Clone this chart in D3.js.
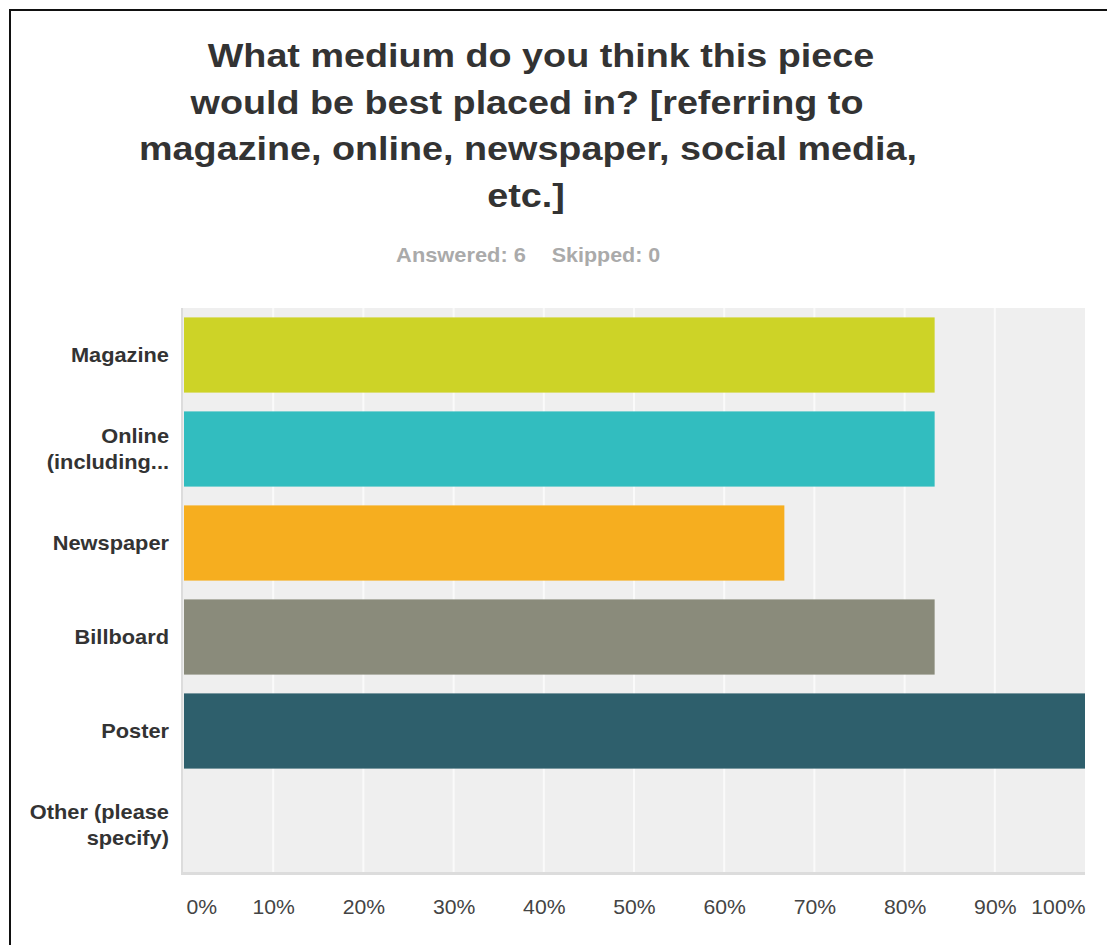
<!DOCTYPE html>
<html>
<head>
<meta charset="utf-8">
<script src="https://cdn.jsdelivr.net/npm/d3@7"></script>
<style>
  body { margin: 0; background: #fff; }
  svg { display: block; font-family: "Liberation Sans", Arial, sans-serif; }
</style>
</head>
<body>
<div class="visHolder"></div>
<script>
const w = 1107;
const h = 945;

// data
const categories = ['Magazine', 'Online (including...', 'Newspaper', 'Billboard', 'Poster', 'Other (please specify)'];
const labelLines = [['Magazine'], ['Online', '(including...'], ['Newspaper'], ['Billboard'], ['Poster'], ['Other (please', 'specify)']];
const percents = [83.33, 83.33, 66.67, 83.33, 100, 0];
const barColors = ['#cdd327', '#32bdbf', '#f6ae1f', '#8a8b7b', '#2e5f6c', '#cccccc'];
const tickValues = [0, 10, 20, 30, 40, 50, 60, 70, 80, 90, 100];
const titleLines = ['What medium do you think this piece', 'would be best placed in? [referring to', 'magazine, online, newspaper, social media,', 'etc.]'];

const plot = { left: 183, top: 308, right: 1085, bottom: 872 };

const svg = d3.select('.visHolder')
  .append('svg')
  .attr('width', w)
  .attr('height', h);

// the screenshot looks a little stretched sideways, so text gets a scaleX
function stretched(sel, x, y, sx) {
  return sel.attr('transform', 'translate(' + x + ',' + y + ') scale(' + sx + ',1)');
}

// frame (only left and top edges visible in the crop)
svg.append('path')
  .attr('d', 'M10,945 L10,10 L1107,10')
  .attr('fill', 'none')
  .attr('stroke', '#111')
  .attr('stroke-width', 2);

// title (first line sits a bit to the right in the original)
const titleX = [541, 527, 528, 526];
titleLines.forEach((line, i) => {
  stretched(svg.append('text'), titleX[i], 67 + i * 46.7, 1.11)
    .attr('text-anchor', 'middle')
    .style('font-size', '34px')
    .style('font-weight', 'bold')
    .style('fill', '#333')
    .text(line);
});

stretched(svg.append('text'), 461, 262, 1.12)
  .attr('text-anchor', 'middle')
  .style('font-size', '19.5px')
  .style('font-weight', 'bold')
  .style('fill', '#aaa')
  .text('Answered: 6');

stretched(svg.append('text'), 606, 262, 1.1)
  .attr('text-anchor', 'middle')
  .style('font-size', '19.5px')
  .style('font-weight', 'bold')
  .style('fill', '#aaa')
  .text('Skipped: 0');

const xScale = d3.scaleLinear()
  .domain([0, 100])
  .range([plot.left, plot.right]);

const yScale = d3.scaleBand()
  .domain(categories)
  .range([plot.top, plot.bottom])
  .paddingInner(0.2)
  .paddingOuter(0.1);

// plot background with shadow on left/bottom
svg.append('rect')
  .attr('x', plot.left - 2)
  .attr('y', plot.top)
  .attr('width', plot.right - plot.left + 2)
  .attr('height', plot.bottom - plot.top + 3)
  .style('fill', '#dcdcdc');

svg.append('rect')
  .attr('x', plot.left)
  .attr('y', plot.top)
  .attr('width', plot.right - plot.left)
  .attr('height', plot.bottom - plot.top)
  .style('fill', '#efefef');

// grid lines
svg.append('g')
  .selectAll('line')
  .data(tickValues.slice(1, -1))
  .enter()
  .append('line')
  .attr('x1', d => xScale(d))
  .attr('x2', d => xScale(d))
  .attr('y1', plot.top)
  .attr('y2', plot.bottom)
  .style('stroke', '#fafafa')
  .style('stroke-width', 2);

// bars
svg.append('g')
  .selectAll('rect')
  .data(categories)
  .enter()
  .append('rect')
  .attr('x', xScale(0) + 1)
  .attr('y', d => yScale(d))
  .attr('width', (d, i) => Math.max(0, xScale(percents[i]) - xScale(0) - 1))
  .attr('height', yScale.bandwidth())
  .style('fill', (d, i) => barColors[i]);

// y labels
const yLabels = svg.append('g');
categories.forEach((c, i) => {
  const lines = labelLines[i];
  const cy = yScale(c) + yScale.bandwidth() / 2;
  lines.forEach((line, j) => {
    stretched(yLabels.append('text'), 169, cy + (j - (lines.length - 1) / 2) * 26.5 + 7, 1.09)
      .attr('text-anchor', 'end')
      .style('font-size', '20px')
      .style('font-weight', 'bold')
      .style('fill', '#333')
      .text(line);
  });
});

// x axis labels
const xAxis = d3.axisBottom(xScale)
  .tickValues(tickValues)
  .tickSize(0)
  .tickPadding(0)
  .tickFormat(d => d + '%');

const gx = svg.append('g')
  .attr('transform', 'translate(0,' + 914 + ')')
  .call(xAxis);
gx.select('.domain').remove();
gx.selectAll('text')
  .attr('dy', 0)
  .attr('y', 0)
  .style('font-size', '20px')
  .style('font-family', '"Liberation Sans", Arial, sans-serif')
  .style('fill', '#444')
  .attr('text-anchor', d => d === 0 ? 'start' : d === 100 ? 'end' : 'middle')
  .attr('transform', d => 'translate(' + (d === 0 ? 3 : 0) + ',0) scale(1.06,1)');
</script>
</body>
</html>
